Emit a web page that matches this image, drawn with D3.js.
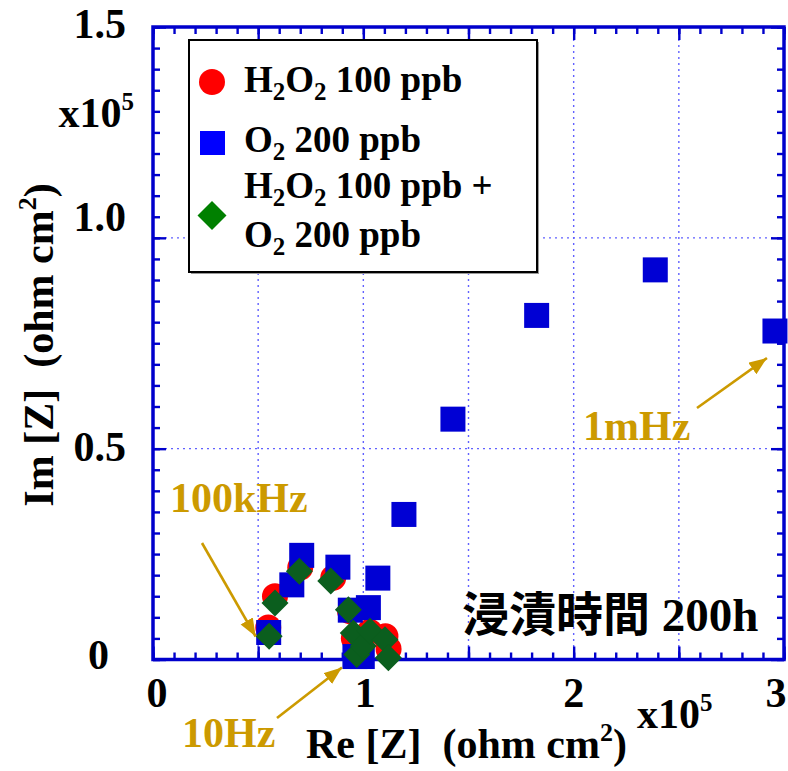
<!DOCTYPE html>
<html>
<head>
<meta charset="utf-8">
<script src="https://cdn.jsdelivr.net/npm/d3@7"></script>
<style>
  html, body { margin: 0; padding: 0; background: #fff; }
  svg { display: block; }
  .serif { font-family: "Liberation Serif", "Times New Roman", serif; font-weight: bold; }
</style>
</head>
<body>
<svg id="chart" width="788" height="771"></svg>
<script>
// Nyquist data, Re[Z] and Im[Z] in units of 1e5 ohm cm^2
const reH2O2 = [0.548, 0.580, 0.700, 0.857, 0.937, 0.955, 0.965, 1.030, 1.105, 1.120];
const imH2O2 = [0.076, 0.150, 0.218, 0.194, 0.114, 0.050, 0.012, 0.066, 0.055, 0.025];

const reO2 = [0.550, 0.660, 0.707, 0.879, 0.938, 0.960, 0.995, 1.024, 1.069, 1.193, 1.426, 1.824, 2.388, 2.957];
const imO2 = [0.064, 0.177, 0.247, 0.219, 0.117, 0.007, 0.007, 0.123, 0.193, 0.344, 0.570, 0.816, 0.924, 0.779];

const reMix = [0.552, 0.580, 0.696, 0.845, 0.929, 0.952, 0.969, 1.000, 1.032, 1.103, 1.119];
const imMix = [0.055, 0.134, 0.209, 0.186, 0.118, 0.063, 0.012, 0.032, 0.067, 0.047, 0.004];

const xTickValues = [0, 1, 2, 3];
const xTickLabels = ["0", "1", "2", "3"];
const yTickValues = [0, 0.5, 1.0, 1.5];
const yTickLabels = ["0", "0.5", "1.0", "1.5"];

const legendLabels = [
  [["H", 0], ["2", 1], ["O", 0], ["2", 1], [" 100 ppb", 0]],
  [["O", 0], ["2", 1], [" 200 ppb", 0]],
  [["H", 0], ["2", 1], ["O", 0], ["2", 1], [" 100 ppb +", 0]],
  [["O", 0], ["2", 1], [" 200 ppb", 0]]
];

const freqNotes = [
  { text: "100kHz", re: 0.55, im: 0.064 },
  { text: "10Hz", re: 0.96, im: 0.007 },
  { text: "1mHz", re: 2.957, im: 0.779 }
];

// ---- layout ----
const svg = d3.select("#chart");
const W = 788, H = 771;
const plot = { left: 153, right: 784, top: 27, bottom: 659.5 };
const axisBlue = "#0000cc";
const gold = "#cc9a00";
const tickFont = 42;

svg.append("rect").attr("width", W).attr("height", H).attr("fill", "#fff");

const x = d3.scaleLinear().domain([0, 3]).range([plot.left, plot.right]);
const y = d3.scaleLinear().domain([0, 1.5]).range([plot.bottom, plot.top]);

// dotted grid at every 0.5
const grid = svg.append("g").attr("stroke", "#4646ff").attr("stroke-width", 1.4)
  .attr("stroke-dasharray", "2,4").attr("opacity", 0.85);
grid.selectAll("line.gx").data(d3.range(0.5, 3, 0.5)).join("line")
  .attr("x1", d => x(d)).attr("x2", d => x(d))
  .attr("y1", plot.top).attr("y2", plot.bottom);
grid.selectAll("line.gy").data([0.5, 1.0]).join("line")
  .attr("y1", d => y(d)).attr("y2", d => y(d))
  .attr("x1", plot.left).attr("x2", plot.right);

// inward ticks on all four sides
function styleAxis(g) {
  g.select(".domain").remove();
  g.selectAll(".tick line").attr("stroke", axisBlue).attr("stroke-width", 2.4);
  g.selectAll(".tick text").remove();
}
const xMinor = d3.range(0, 3.001, 0.1).map(v => +v.toFixed(2));
const xMajor = d3.range(0, 3.001, 0.5).map(v => +v.toFixed(2));
const yMinor = d3.range(0, 1.501, 0.05).map(v => +v.toFixed(2));
const yMajor = d3.range(0, 1.501, 0.5).map(v => +v.toFixed(2));

[[xMinor, 7], [xMajor, 13]].forEach(([vals, len]) => {
  svg.append("g").attr("transform", `translate(0,${plot.bottom})`)
    .call(d3.axisBottom(x).tickValues(vals).tickSize(-len)).call(styleAxis);
  svg.append("g").attr("transform", `translate(0,${plot.top})`)
    .call(d3.axisTop(x).tickValues(vals).tickSize(-len)).call(styleAxis);
});
[[yMinor, 7], [yMajor, 13]].forEach(([vals, len]) => {
  svg.append("g").attr("transform", `translate(${plot.left},0)`)
    .call(d3.axisLeft(y).tickValues(vals).tickSize(-len)).call(styleAxis);
  svg.append("g").attr("transform", `translate(${plot.right},0)`)
    .call(d3.axisRight(y).tickValues(vals).tickSize(-len)).call(styleAxis);
});

// frame
svg.append("rect")
  .attr("x", plot.left).attr("y", plot.top)
  .attr("width", plot.right - plot.left).attr("height", plot.bottom - plot.top)
  .attr("fill", "none").attr("stroke", axisBlue).attr("stroke-width", 3.5);

// tick labels (the last one is pulled in so it stays inside the page)
const xLabelShift = [4, 2, 0, -8];
svg.append("g").attr("class", "serif").attr("font-size", tickFont).attr("fill", "#000")
  .attr("text-anchor", "middle")
  .selectAll("text").data(xTickValues).join("text")
  .attr("x", (d, i) => x(d) + xLabelShift[i])
  .attr("y", 707)
  .text((d, i) => xTickLabels[i]);

// per-label nudges (right edge x, vertical shift of the label centre)
const yLabelNudge = [{ xr: 109, dy: -5 }, { xr: 126, dy: -2 }, { xr: 126, dy: -21 }, { xr: 126, dy: -3 }];
svg.append("g").attr("class", "serif").attr("font-size", tickFont).attr("fill", "#000")
  .attr("text-anchor", "end")
  .selectAll("text").data(yTickValues).join("text")
  .attr("x", (d, i) => yLabelNudge[i].xr)
  .attr("y", (d, i) => y(d) + yLabelNudge[i].dy + 14)
  .text((d, i) => yTickLabels[i]);

// x10^5 multipliers
function multiplier(xr, base, anchor) {
  const t = svg.append("text").attr("class", "serif").attr("font-size", tickFont)
    .attr("x", xr).attr("y", base).attr("text-anchor", anchor);
  t.append("tspan").text("x10");
  t.append("tspan").attr("font-size", 25).attr("dy", -17).text("5");
}
multiplier(134, 127, "end");
multiplier(637, 728, "start");

// axis titles
const xt = svg.append("text").attr("class", "serif").attr("font-size", 42)
  .attr("x", 306).attr("y", 758).style("white-space", "pre");
xt.append("tspan").text("Re [Z]  (ohm cm");
xt.append("tspan").attr("font-size", 26).attr("dy", -17).text("2");
xt.append("tspan").attr("dy", 17).text(")");

const yt = svg.append("text").attr("class", "serif").attr("font-size", 42)
  .attr("text-anchor", "middle").attr("transform", "translate(53,345) rotate(-90)")
  .style("white-space", "pre");
yt.append("tspan").text("Im [Z]  (ohm cm");
yt.append("tspan").attr("font-size", 26).attr("dy", -17).text("2");
yt.append("tspan").attr("dy", 17).text(")");

// ---- data marks ----
const dataG = svg.append("g");
dataG.selectAll("circle").data(d3.zip(reH2O2, imH2O2)).join("circle")
  .attr("cx", d => x(d[0])).attr("cy", d => y(d[1])).attr("r", 13)
  .attr("fill", "#ff0000");
const sq = 25;
dataG.selectAll("rect.o2").data(d3.zip(reO2, imO2)).join("rect")
  .attr("class", "o2")
  .attr("x", d => x(d[0]) - sq / 2).attr("y", d => y(d[1]) - sq / 2)
  .attr("width", sq).attr("height", sq).attr("fill", "#0000d4");
const diamond = d3.symbol().type(d3.symbolSquare).size(2 * 13.5 * 13.5);
dataG.selectAll("path.mix").data(d3.zip(reMix, imMix)).join("path")
  .attr("class", "mix")
  .attr("d", diamond)
  .attr("transform", d => `translate(${x(d[0])},${y(d[1])}) rotate(45)`)
  .attr("fill", "#0b5e1e");

// ---- frequency annotations ----
const defs = svg.append("defs");
defs.append("marker").attr("id", "head").attr("markerUnits", "userSpaceOnUse")
  .attr("markerWidth", 20).attr("markerHeight", 16).attr("refX", 18).attr("refY", 7)
  .attr("orient", "auto")
  .append("path").attr("d", "M0,0 L18,7 L0,14 z").attr("fill", gold);

// label anchor, arrow tail, and arrow tip offset from the marked point
const noteLayout = [
  { tx: 170, ty: 512, ax: 202, ay: 543, dx: -13, dy: 4 },
  { tx: 182, ty: 747, ax: 277, ay: 718, dx: -13, dy: 11 },
  { tx: 583, ty: 440, ax: 697, ay: 408, dx: -8, dy: 27 }
];
freqNotes.forEach((n, i) => {
  const L = noteLayout[i];
  svg.append("text").attr("class", "serif").attr("font-size", 42).attr("fill", gold)
    .attr("x", L.tx).attr("y", L.ty).text(n.text);
  svg.append("line")
    .attr("x1", L.ax).attr("y1", L.ay)
    .attr("x2", x(n.re) + L.dx).attr("y2", y(n.im) + L.dy)
    .attr("stroke", gold).attr("stroke-width", 2.6)
    .attr("marker-end", "url(#head)");
});

// immersion time label
const tl = svg.append("text").attr("x", 462).attr("y", 631).attr("font-size", 47).attr("fill", "#000");
tl.append("tspan").style("font-family", '"Noto Sans CJK JP", sans-serif').style("font-weight", "bold").text("浸漬時間");
tl.append("tspan").attr("class", "serif").text(" 200h");

// ---- legend ----
const lg = svg.append("g");
lg.append("rect").attr("x", 191).attr("y", 42).attr("width", 348).attr("height", 232)
  .attr("fill", "#9a9a9a");
lg.append("rect").attr("x", 189).attr("y", 40).attr("width", 348).attr("height", 232)
  .attr("fill", "#fff").attr("stroke", "#000").attr("stroke-width", 2);
lg.append("circle").attr("cx", 212).attr("cy", 82).attr("r", 13).attr("fill", "#ff0000");
lg.append("rect").attr("x", 200).attr("y", 131).attr("width", 25).attr("height", 24).attr("fill", "#0000ff");
lg.append("path").attr("d", d3.symbol().type(d3.symbolSquare).size(2 * 14.5 * 14.5))
  .attr("transform", "translate(212,215.5) rotate(45)").attr("fill", "#008000");

const legendBaselines = [92, 152, 198, 247];
legendLabels.forEach((parts, i) => {
  const t = lg.append("text").attr("class", "serif").attr("font-size", 37)
    .attr("x", 244).attr("y", legendBaselines[i]).style("white-space", "pre");
  let down = 0;
  parts.forEach(([s, sub]) => {
    const dy = (sub ? 8 : 0) - down;
    down = sub ? 8 : 0;
    t.append("tspan").attr("dy", dy).attr("font-size", sub ? 25 : 37).text(s);
  });
});
</script>
</body>
</html>
